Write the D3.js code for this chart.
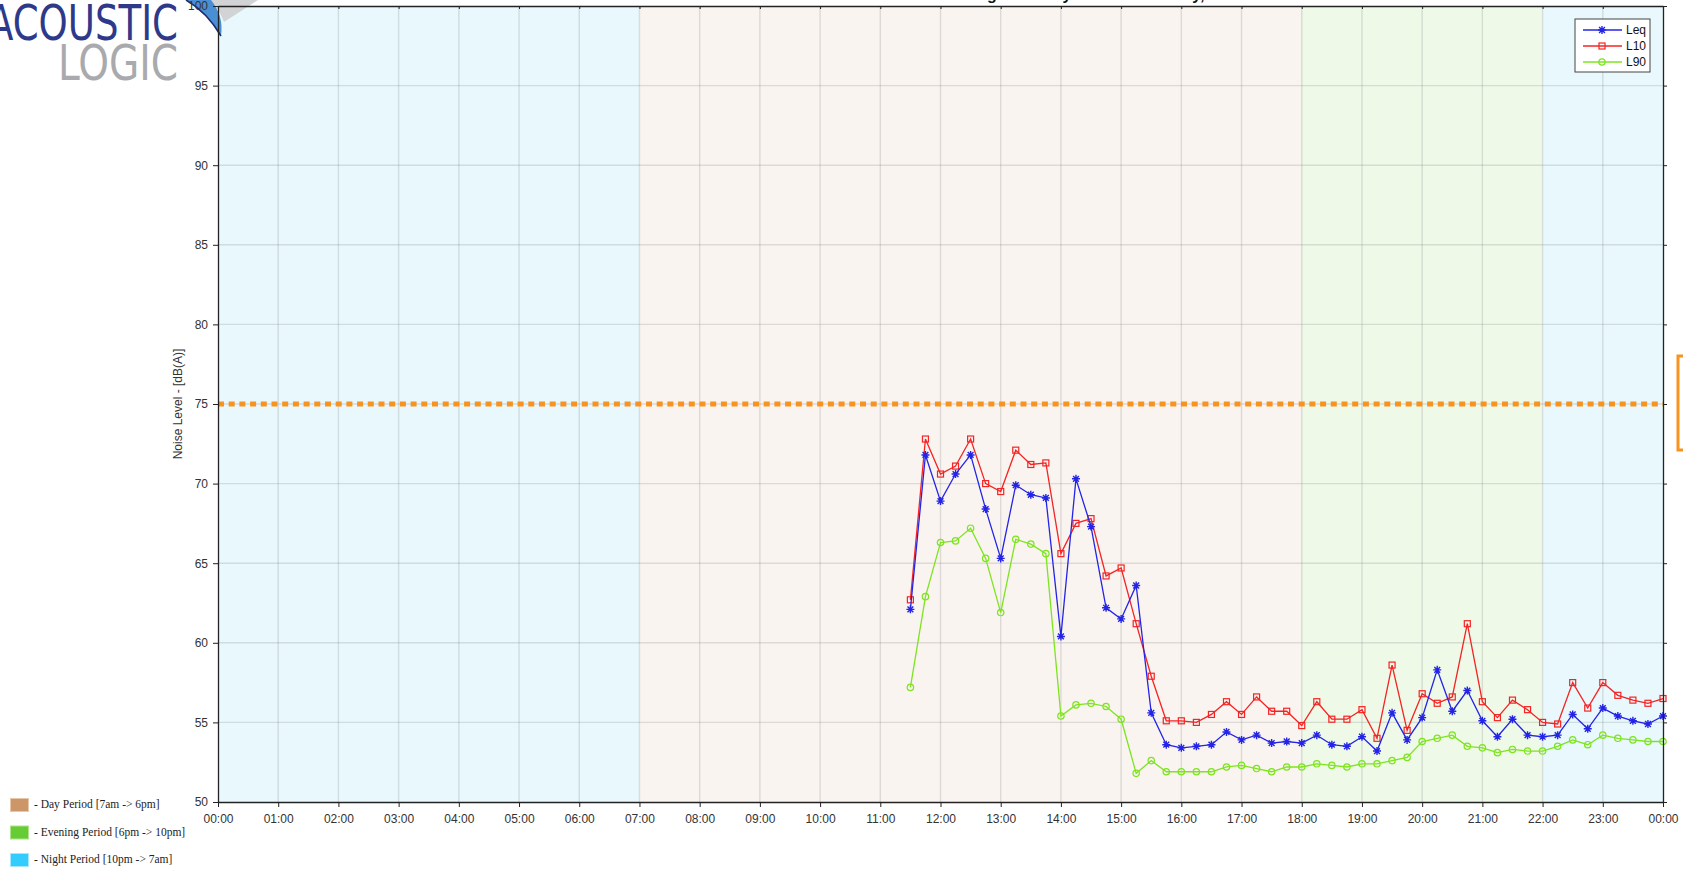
<!DOCTYPE html>
<html>
<head>
<meta charset="utf-8">
<script src="https://cdn.jsdelivr.net/npm/d3@7"></script>
<style>
  html, body { margin: 0; padding: 0; background: #fff; overflow: hidden; }
  svg { display: block; font-family: "Liberation Sans", Arial, sans-serif; }
</style>
</head>
<body>
<svg id="canvas" width="1683" height="872"></svg>
<script>
// 15 minute samples, 11:30 -> midnight
const TIMES = [
  "11:30", "11:45", "12:00", "12:15", "12:30", "12:45", "13:00", "13:15", "13:30", "13:45",
  "14:00", "14:15", "14:30", "14:45", "15:00", "15:15", "15:30", "15:45", "16:00", "16:15",
  "16:30", "16:45", "17:00", "17:15", "17:30", "17:45", "18:00", "18:15", "18:30", "18:45",
  "19:00", "19:15", "19:30", "19:45", "20:00", "20:15", "20:30", "20:45", "21:00", "21:15",
  "21:30", "21:45", "22:00", "22:15", "22:30", "22:45", "23:00", "23:15", "23:30", "23:45",
  "24:00",
]
const LEQ = [
  62.1, 71.8, 68.9, 70.6, 71.8, 68.4, 65.3, 69.9, 69.3, 69.1,
  60.4, 70.3, 67.3, 62.2, 61.5, 63.6, 55.6, 53.6, 53.4, 53.5,
  53.6, 54.4, 53.9, 54.2, 53.7, 53.8, 53.7, 54.2, 53.6, 53.5,
  54.1, 53.2, 55.6, 53.9, 55.3, 58.3, 55.7, 57.0, 55.1, 54.1,
  55.2, 54.2, 54.1, 54.2, 55.5, 54.6, 55.9, 55.4, 55.1, 54.9,
  55.4,
]
const L10 = [
  62.7, 72.8, 70.6, 71.1, 72.8, 70.0, 69.5, 72.1, 71.2, 71.3,
  65.6, 67.5, 67.8, 64.2, 64.7, 61.2, 57.9, 55.1, 55.1, 55.0,
  55.5, 56.3, 55.5, 56.6, 55.7, 55.7, 54.8, 56.3, 55.2, 55.2,
  55.8, 54.0, 58.6, 54.5, 56.8, 56.2, 56.6, 61.2, 56.3, 55.3,
  56.4, 55.8, 55.0, 54.9, 57.5, 55.9, 57.5, 56.7, 56.4, 56.2,
  56.5,
]
const L90 = [
  57.2, 62.9, 66.3, 66.4, 67.2, 65.3, 61.9, 66.5, 66.2, 65.6,
  55.4, 56.1, 56.2, 56.0, 55.2, 51.8, 52.6, 51.9, 51.9, 51.9,
  51.9, 52.2, 52.3, 52.1, 51.9, 52.2, 52.2, 52.4, 52.3, 52.2,
  52.4, 52.4, 52.6, 52.8, 53.8, 54.0, 54.2, 53.5, 53.4, 53.1,
  53.3, 53.2, 53.2, 53.5, 53.9, 53.6, 54.2, 54.0, 53.9, 53.8,
  53.8,
]
const CRITERION = 75
const Y_TICKS = [50, 55, 60, 65, 70, 75, 80, 85, 90, 95, 100]
const X_TICKS = [
  "00:00", "01:00", "02:00", "03:00", "04:00", "05:00", "06:00", "07:00", "08:00",
  "09:00", "10:00", "11:00", "12:00", "13:00", "14:00", "15:00", "16:00", "17:00",
  "18:00", "19:00", "20:00", "21:00", "22:00", "23:00", "00:00",
]
const PERIOD_NAMES = ["night", "day", "evening", "night"]
const PERIOD_START = ["00:00", "07:00", "18:00", "22:00"]
const PERIOD_END = ["07:00", "18:00", "22:00", "24:00"]
const PERIOD_KEYS = ["day", "evening", "night"]
const PERIOD_LABELS = [
  "- Day Period [7am -> 6pm]",
  "- Evening Period [6pm -> 10pm]",
  "- Night Period [10pm -> 7am]",
]
const SERIES_NAMES = ["Leq", "L10", "L90"]
const TITLE = "Unattended Noise Log - Monday 24th of February, 2014"
const Y_TITLE = "Noise Level - [dB(A)]"

const BAND_FILL = { night: "#e8f8fd", day: "#f9f4f0", evening: "#eef9e8" }
const SWATCH = {
  day: ["#cd9669", "#e6c8a8"],
  evening: ["#66cc33", "#aee48c"],
  night: ["#33ccff", "#a6e6ff"],
}
const LINE_COLOR = { Leq: "#2424e6", L10: "#f42424", L90: "#7ee41f" }
const MARKER = { Leq: "asterisk", L10: "square", L90: "circle" }

const toHours = (s) => {
  const [h, m] = s.split(":").map(Number)
  return h + m / 60
}

const svg = d3.select("#canvas")
const M = { left: 218, right: 1663, top: 6, bottom: 802 }

const x = d3.scaleLinear().domain([0, 24]).range([M.left, M.right])
const y = d3.scaleLinear().domain([50, 100]).range([M.bottom, M.top])

// period bands
svg
  .append("g")
  .selectAll("rect")
  .data(PERIOD_NAMES)
  .enter()
  .append("rect")
  .attr("x", (d, i) => x(toHours(PERIOD_START[i])))
  .attr("y", y(100))
  .attr("width", (d, i) => x(toHours(PERIOD_END[i])) - x(toHours(PERIOD_START[i])))
  .attr("height", y(50) - y(100))
  .attr("fill", (d) => BAND_FILL[d])

// grid
const grid = svg.append("g").attr("stroke", "rgba(110,110,110,0.2)").attr("stroke-width", 1.4)
grid
  .selectAll("line.v")
  .data(d3.range(1, X_TICKS.length - 1))
  .enter()
  .append("line")
  .attr("class", "v")
  .attr("x1", (d) => x(d))
  .attr("x2", (d) => x(d))
  .attr("y1", y(100))
  .attr("y2", y(50))
grid
  .selectAll("line.h")
  .data(Y_TICKS.slice(1, -1))
  .enter()
  .append("line")
  .attr("class", "h")
  .attr("x1", x(0))
  .attr("x2", x(24))
  .attr("y1", (d) => y(d))
  .attr("y2", (d) => y(d))

// criterion line
svg
  .append("line")
  .attr("x1", x(0))
  .attr("x2", x(24))
  .attr("y1", y(CRITERION))
  .attr("y2", y(CRITERION))
  .attr("stroke", "#f7931e")
  .attr("stroke-width", 5)
  .attr("stroke-dasharray", "6,4.7")

// label box for the criterion (cut off at the page edge)
svg
  .append("rect")
  .attr("x", 1678)
  .attr("y", y(CRITERION) - 48)
  .attr("width", 60)
  .attr("height", 94)
  .attr("fill", "#fff")
  .attr("stroke", "#f7931e")
  .attr("stroke-width", 3)

// series
const line = d3
  .line()
  .x((d) => x(toHours(d.t)))
  .y((d) => y(d.v))

const drawMarker = (sel, kind, color) => {
  if (kind === "asterisk") {
    sel
      .append("path")
      .attr("d", "M0,-4L0,4M-4,0L4,0M-2.9,-2.9L2.9,2.9M-2.9,2.9L2.9,-2.9")
      .attr("stroke", color)
      .attr("stroke-width", 1.4)
  } else if (kind === "square") {
    sel
      .append("rect")
      .attr("x", -3)
      .attr("y", -3)
      .attr("width", 6)
      .attr("height", 6)
      .attr("fill", "none")
      .attr("stroke", color)
      .attr("stroke-width", 1.2)
  } else {
    sel
      .append("circle")
      .attr("r", 3.2)
      .attr("fill", "none")
      .attr("stroke", color)
      .attr("stroke-width", 1.2)
  }
}

const seriesData = { Leq: LEQ, L10: L10, L90: L90 }
const drawOrder = ["L90", "L10", "Leq"]
drawOrder.forEach((name) => {
  const pts = TIMES.map((t, i) => ({ t, v: seriesData[name][i] }))
  const g = svg.append("g")
  g.append("path")
    .datum(pts)
    .attr("d", line)
    .attr("fill", "none")
    .attr("stroke", LINE_COLOR[name])
    .attr("stroke-width", 1.3)
  g.selectAll("g")
    .data(pts)
    .enter()
    .append("g")
    .attr("transform", (d) => `translate(${x(toHours(d.t))},${y(d.v)})`)
    .call((s) => drawMarker(s, MARKER[name], LINE_COLOR[name]))
})

// logo swoosh
svg
  .append("path")
  .attr("d", "M209,0 L258,0 Q243,10 224,22 Q219,8 209,0 Z")
  .attr("fill", "#d2d3d5")
svg
  .append("path")
  .attr("d", "M186,0 L211,0 Q224,16 221,36 Q207,12 186,0 Z")
  .attr("fill", "#4a8fd4")
svg
  .append("path")
  .attr("d", "M186,0 Q207,12 221,36")
  .attr("fill", "none")
  .attr("stroke", "#1f2a6e")
  .attr("stroke-width", 1.5)

// axes
const styleAxis = (g) => {
  g.select(".domain").attr("stroke", "#222").attr("stroke-width", 1.3)
  g.selectAll(".tick line").attr("stroke", "#222")
  g.selectAll(".tick text")
    .attr("fill", "#333")
    .attr("font-size", 12)
    .attr("font-family", '"Liberation Sans", Arial, sans-serif')
}

svg
  .append("g")
  .attr("transform", `translate(0,${M.bottom})`)
  .call(
    d3
      .axisBottom(x)
      .tickValues(d3.range(X_TICKS.length))
      .tickFormat((d, i) => X_TICKS[i])
      .tickSize(5)
      .tickPadding(7)
      .tickSizeOuter(0)
  )
  .call(styleAxis)

svg
  .append("g")
  .attr("transform", `translate(${M.left},0)`)
  .call(d3.axisLeft(y).tickValues(Y_TICKS).tickSize(5).tickPadding(5).tickSizeOuter(0))
  .call(styleAxis)

svg
  .append("g")
  .attr("transform", `translate(0,${M.top})`)
  .call(
    d3
      .axisTop(x)
      .tickValues(d3.range(X_TICKS.length))
      .tickFormat("")
      .tickSize(-3)
      .tickSizeOuter(0)
  )
  .call(styleAxis)

svg
  .append("g")
  .attr("transform", `translate(${M.right},0)`)
  .call(d3.axisRight(y).tickValues(Y_TICKS).tickFormat("").tickSize(4).tickSizeOuter(0))
  .call(styleAxis)

// y title
svg
  .append("text")
  .attr("transform", `translate(182,${(M.top + M.bottom) / 2}) rotate(-90)`)
  .attr("text-anchor", "middle")
  .attr("font-size", 12)
  .attr("fill", "#333")
  .text(Y_TITLE)

// title, mostly above the page
const title = svg
  .append("text")
  .attr("y", 0)
  .attr("font-size", 16)
  .attr("font-weight", "bold")
  .attr("fill", "#111")
  .text(TITLE)
const gOffset = title.node().getSubStringLength(0, TITLE.indexOf("g"))
title.attr("x", 987 - gOffset)

// series legend
const lg = svg.append("g").attr("transform", "translate(1575,19)")
lg.append("rect")
  .attr("width", 75)
  .attr("height", 53)
  .attr("fill", "#fff")
  .attr("stroke", "#444")
  .attr("stroke-width", 1)
const items = lg
  .selectAll("g")
  .data(SERIES_NAMES)
  .enter()
  .append("g")
  .attr("transform", (d, i) => `translate(0,${11 + i * 16})`)
items
  .append("line")
  .attr("x1", 8)
  .attr("x2", 47)
  .attr("stroke", (d) => LINE_COLOR[d])
  .attr("stroke-width", 1.3)
items
  .append("g")
  .attr("transform", "translate(27,0)")
  .each(function (d) {
    drawMarker(d3.select(this), MARKER[d], LINE_COLOR[d])
  })
items
  .append("text")
  .attr("x", 51)
  .attr("y", 4)
  .attr("font-size", 12)
  .attr("fill", "#111")
  .text((d) => d)

// period legend, bottom left
const pl = svg.append("g").attr("transform", "translate(10,798)")
const pItems = pl
  .selectAll("g")
  .data(PERIOD_KEYS)
  .enter()
  .append("g")
  .attr("transform", (d, i) => `translate(0,${i * 27.5})`)
pItems
  .append("rect")
  .attr("x", 0.5)
  .attr("y", 0.5)
  .attr("width", 18)
  .attr("height", 13)
  .attr("fill", (d) => SWATCH[d][0])
  .attr("stroke", (d) => SWATCH[d][1])
pItems
  .append("text")
  .attr("x", 24)
  .attr("y", 10)
  .attr("font-family", '"Liberation Serif", "DejaVu Serif", serif')
  .attr("font-size", 11.5)
  .attr("fill", "#222")
  .text((d, i) => PERIOD_LABELS[i])

// company logo
svg
  .append("text")
  .attr("x", -12)
  .attr("y", 40)
  .attr("font-family", '"DejaVu Sans Condensed", "DejaVu Sans", sans-serif')
  .attr("font-size", 50)
  .attr("textLength", 190)
  .attr("lengthAdjust", "spacingAndGlyphs")
  .attr("fill", "#2e3a89")
  .text("ACOUSTIC")
svg
  .append("text")
  .attr("x", 58)
  .attr("y", 80)
  .attr("font-family", '"DejaVu Sans Condensed", "DejaVu Sans", sans-serif')
  .attr("font-size", 50)
  .attr("textLength", 120)
  .attr("lengthAdjust", "spacingAndGlyphs")
  .attr("fill", "#a8aaad")
  .text("LOGIC")
</script>
</body>
</html>
